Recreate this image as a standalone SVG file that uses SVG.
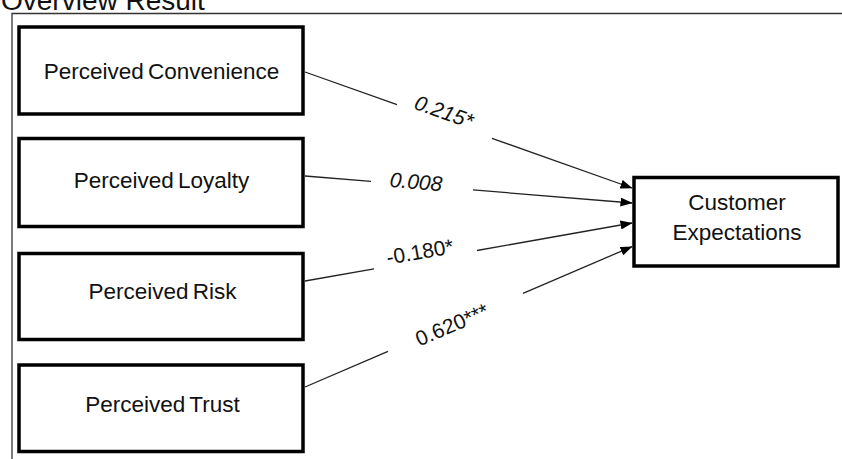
<svg xmlns="http://www.w3.org/2000/svg" width="842" height="459" viewBox="0 0 842 459">
<style>
.box{fill:#fff;stroke:#000;stroke-width:3.5}
.lbl{font-family:"Liberation Sans",Arial,Helvetica,sans-serif;font-size:22.5px;fill:#111;text-anchor:middle;word-spacing:-2px}
.coef{font-family:"Liberation Sans",Arial,Helvetica,sans-serif;font-size:21px;fill:#111;text-anchor:middle}
.it{font-style:italic}
.edge{stroke:#222;stroke-width:1.3;fill:none}
.frame{stroke:#333;stroke-width:1.3;fill:none}
</style>
<defs>
<marker id="ah" viewBox="0 0 12 9" refX="11.5" refY="4.5" markerWidth="12" markerHeight="9" markerUnits="userSpaceOnUse" orient="auto">
<path d="M0,0 L12,4.5 L0,9 Z" fill="#000"/>
</marker>
</defs>
<rect width="842" height="459" fill="#fff"/>
<text x="1" y="9.5" font-family="'Liberation Sans',Arial,Helvetica,sans-serif" font-size="28" fill="#111">Overview Result</text>
<path class="frame" d="M12,459 L12,13.5 L842,13.5"/>

<g id="n-convenience">
<rect class="box" x="19" y="27" width="284" height="87"/>
<text class="lbl" x="161.5" y="79">Perceived Convenience</text>
</g>
<g id="n-loyalty">
<rect class="box" x="19" y="138.5" width="284" height="88"/>
<text class="lbl" x="161.5" y="188">Perceived Loyalty</text>
</g>
<g id="n-risk">
<rect class="box" x="19" y="253.5" width="284" height="86"/>
<text class="lbl" x="162.5" y="299">Perceived Risk</text>
</g>
<g id="n-trust">
<rect class="box" x="19" y="365" width="284" height="86.5"/>
<text class="lbl" x="162.5" y="412">Perceived Trust</text>
</g>
<g id="n-expectations">
<rect class="box" x="634" y="177.5" width="204" height="88.5"/>
<text class="lbl" x="737" y="210">Customer</text>
<text class="lbl" x="737" y="240">Expectations</text>
</g>

<g id="connectors">
<line class="edge" x1="305" y1="72" x2="397" y2="104.6"/>
<line class="edge" x1="492" y1="138.3" x2="632" y2="188" marker-end="url(#ah)"/>
<line class="edge" x1="305" y1="176" x2="371" y2="181.4"/>
<line class="edge" x1="473" y1="189.9" x2="632" y2="203" marker-end="url(#ah)"/>
<line class="edge" x1="305" y1="281" x2="374" y2="268.8"/>
<line class="edge" x1="477" y1="250.5" x2="632" y2="223" marker-end="url(#ah)"/>
<line class="edge" x1="305" y1="387" x2="388" y2="351.4"/>
<line class="edge" x1="523" y1="293.4" x2="632" y2="246.6" marker-end="url(#ah)"/>
<text class="coef it" transform="translate(444,112) rotate(19.5)" y="7">0.215*</text>
<text class="coef it" transform="translate(416,182) rotate(5)" y="7">0.008</text>
<text class="coef" transform="translate(420,252) rotate(-10)" y="7" font-size="20">-0.180*</text>
<text class="coef" transform="translate(452,325) rotate(-23)" y="7">0.620***</text>
</g>
</svg>
